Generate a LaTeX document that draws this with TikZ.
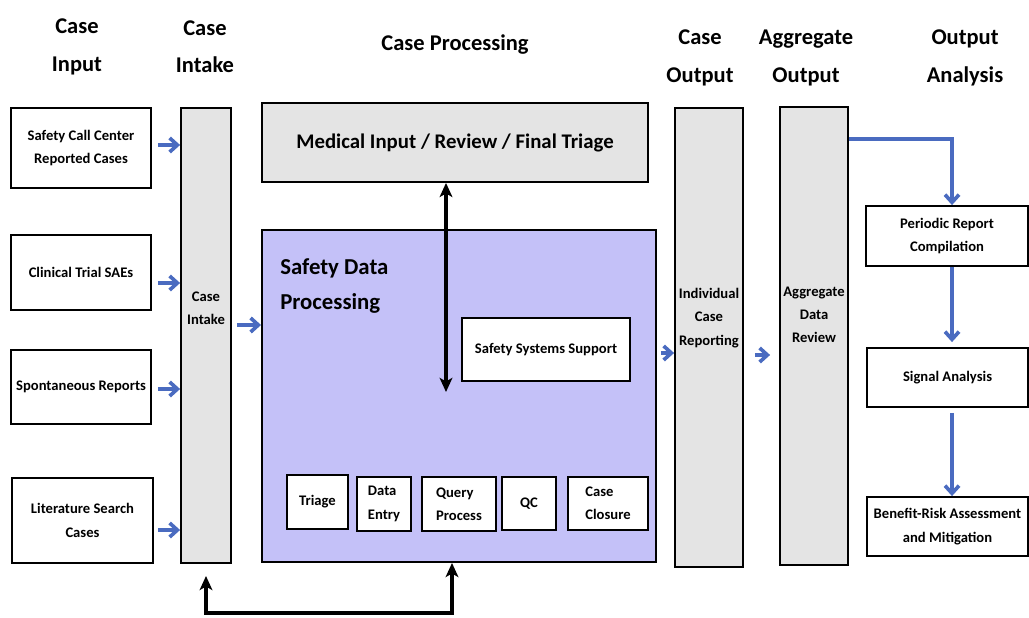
\documentclass[tikz,border=0pt]{standalone}
\usepackage{fontspec}
\setmainfont{Carlito}
\usetikzlibrary{arrows.meta}
\definecolor{colgray}{HTML}{E4E4E4}
\definecolor{sdpfill}{HTML}{C4C1F8}
\definecolor{flowblue}{HTML}{4A6BC0}
\tikzset{
	box/.style={draw=black,line width=1.3pt,fill=white,inner sep=0pt,align=center,font=\fontsize{10.4}{16.5}\selectfont\bfseries},
	column/.style={box,fill=colgray},
	lbl/.style={align=center,inner sep=0pt,font=\fontsize{10.4}{16.5}\selectfont\bfseries},
	head/.style={align=center,inner sep=0pt,font=\fontsize{16}{26.5}\selectfont\bfseries},
	flow/.style={draw=flowblue,line width=2.6pt,-{Straight Barb[length=5.5pt,width=10pt]}},
	twoway/.style={draw=black,line width=2.4pt,{Stealth[length=10pt,width=9pt,inset=2.5pt]}-{Stealth[length=10pt,width=9pt,inset=2.5pt]}}
}

\begin{document}
\begin{tikzpicture}[x=0.025cm,y=-0.025cm]
	\useasboundingbox (0,0) rectangle (1029,617);
	% column headers
	\node[head] (hinput) at (77,47) {Case\\Input};
	\node[head] (hintake) at (205,47) {Case\\Intake};
	\node[head] (hproc) at (455,45) {Case Processing};
	\node[head] (hcout) at (700,58) {Case\\Output};
	\node[head] (haout) at (806,58) {Aggregate\\Output};
	\node[head] (hanal) at (965,58) {Output\\Analysis};
	% case input
	\node[box,minimum width=3.5cm,minimum height=2cm] (call) at (81,148) {Safety Call Center\\Reported Cases};
	\node[box,minimum width=3.5cm,minimum height=1.875cm] (trial) at (81,272.5) {Clinical Trial SAEs};
	\node[box,minimum width=3.5cm,minimum height=1.85cm] (spont) at (81,387) {Spontaneous Reports};
	\node[box,minimum width=3.525cm,minimum height=2.125cm] (lit) at (82.5,520.5) {Literature Search\\Cases};
	% case intake
	\node[column,minimum width=1.25cm,minimum height=11.375cm] (intake) at (206,335.5) {};
	\node[lbl] (intakelbl) at (206,308) {Case\\Intake};
	% case processing
	\node[box,fill=colgray,minimum width=9.65cm,minimum height=1.975cm,font=\fontsize{14.8}{18}\selectfont\bfseries] (med) at (455,142.5) {Medical Input / Review / Final Triage};
	\node[box,fill=sdpfill,minimum width=9.85cm,minimum height=8.3cm] (sdp) at (459,396) {};
	\node[head,align=left,anchor=west,font=\fontsize{16.2}{25.5}\selectfont\bfseries] (sdplbl) at (280,286) {Safety Data\\Processing};
	\node[box,minimum width=4.2cm,minimum height=1.575cm] (support) at (546,349.5) {Safety Systems Support};
	\node[box,minimum width=1.525cm,minimum height=1.35cm] (triage) at (317.5,502) {Triage};
	\node[box,minimum width=1.35cm,minimum height=1.35cm,align=left] (entry) at (384,504) {Data\\Entry};
	\node[box,minimum width=1.85cm,minimum height=1.35cm,align=left] (query) at (459,504) {Query\\Process};
	\node[box,minimum width=1.35cm,minimum height=1.325cm] (qc) at (529,503.5) {QC};
	\node[box,minimum width=2cm,minimum height=1.325cm,align=left] (closure) at (608,503.5) {Case\\Closure};
	% case and aggregate output
	\node[column,minimum width=1.7cm,minimum height=11.475cm] (indiv) at (709,337.5) {};
	\node[lbl] (indivlbl) at (709,318) {Individual\\Case\\Reporting};
	\node[column,minimum width=1.7cm,minimum height=11.45cm] (aggr) at (814,336) {};
	\node[lbl] (aggrlbl) at (814,315) {Aggregate\\Data\\Review};
	% output analysis
	\node[box,minimum width=4.05cm,minimum height=1.5cm] (periodic) at (947,236) {Periodic Report\\Compilation};
	\node[box,minimum width=4.025cm,minimum height=1.475cm] (signal) at (947.5,377.5) {Signal Analysis};
	\node[box,minimum width=4.025cm,minimum height=1.475cm] (benefit) at (947.5,526.5) {Benefit-Risk Assessment\\and Mitigation};
	% arrows
	\draw[flow,shorten <=0.15cm] (call.east |- 0,145) -- (intake.west |- 0,145);
	\draw[flow,shorten <=0.15cm] (trial.east |- 0,283) -- (intake.west |- 0,283);
	\draw[flow,shorten <=0.15cm] (spont.east |- 0,389) -- (intake.west |- 0,389);
	\draw[flow,shorten <=0.1cm] (lit.east |- 0,530) -- (intake.west |- 0,530);
	\draw[flow,shorten <=0.125cm] (intake.east |- 0,325) -- (sdp.west |- 0,325);
	\draw[flow,shorten <=0.1cm] (sdp.east |- 0,353) -- (indiv.west |- 0,353);
	\draw[flow,shorten <=0.275cm,shorten >=0.225cm] (indiv.east |- 0,355) -- (aggr.west |- 0,355);
	\coordinate (rcol) at (952,0);
	\draw[flow] (aggr.east |- 0,139) -| (rcol |- periodic.north);
	\draw[flow,shorten >=0.125cm] (rcol |- periodic.south) -- (rcol |- signal.north);
	\draw[flow,shorten <=0.125cm] (rcol |- signal.south) -- (rcol |- benefit.north);
	\coordinate (dblend) at (446,392);
	\draw[twoway] (dblend |- med.south) -- (dblend);
	\coordinate (loopR) at (452,613);
	\draw[twoway] ([yshift=-0.3cm]intake.south) -- (intake.south |- loopR) -- (loopR) -- (loopR |- sdp.south);
\end{tikzpicture}
\end{document}
